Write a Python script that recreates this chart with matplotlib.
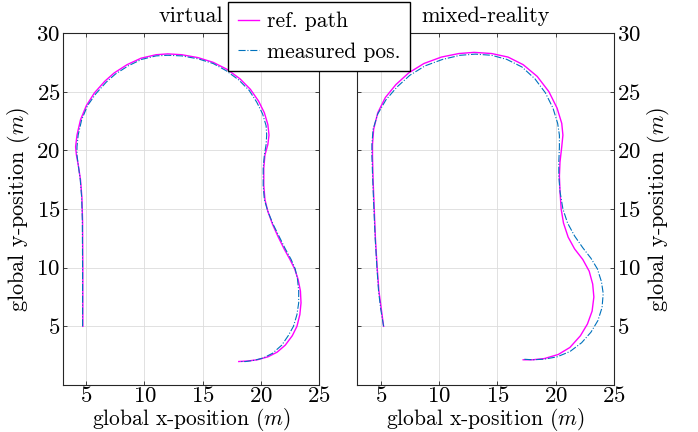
import numpy as np
import matplotlib
matplotlib.use("Agg")
import matplotlib.pyplot as plt

plt.rcParams['font.family'] = 'serif'
plt.rcParams['font.serif'] = ['cmr10']
plt.rcParams['mathtext.fontset'] = 'cm'
plt.rcParams['axes.formatter.use_mathtext'] = True
plt.rcParams['font.size'] = 16

# path points (x, y) in metres
virt_ref = np.array([
    (4.70, 5.0), (4.70, 10.0), (4.68, 14.0), (4.62, 16.0), (4.50, 17.5), (4.30, 18.8),
    (4.15, 19.6), (4.08, 20.3), (4.20, 21.3), (4.50, 22.6), (5.00, 23.8), (5.70, 24.9),
    (6.60, 25.9), (7.40, 26.6), (8.50, 27.3), (9.70, 27.85), (11.0, 28.15), (12.0, 28.22),
    (13.2, 28.15), (14.6, 27.9), (15.9, 27.5), (17.1, 26.9), (18.2, 26.1), (19.1, 25.2),
    (19.8, 24.2), (20.3, 23.2), (20.6, 22.2), (20.7, 21.3), (20.6, 20.5), (20.35, 19.6),
    (20.25, 18.5), (20.25, 17.0), (20.35, 15.8), (20.6, 14.8), (21.0, 13.7), (21.5, 12.6),
    (22.0, 11.6), (22.5, 10.7), (22.9, 9.9), (23.2, 9.0), (23.4, 8.0), (23.45, 7.0),
    (23.35, 6.0), (23.1, 5.0), (22.7, 4.2), (22.1, 3.4), (21.4, 2.8), (20.6, 2.4),
    (19.7, 2.15), (18.9, 2.05), (18.1, 2.0),
])
virt_meas = np.array([
    (4.68, 5.0), (4.68, 10.0), (4.66, 14.0), (4.60, 16.0), (4.48, 17.5), (4.30, 18.8),
    (4.20, 19.6), (4.20, 20.3), (4.30, 21.3), (4.60, 22.6), (5.10, 23.8), (5.80, 24.8),
    (6.70, 25.8), (7.50, 26.5), (8.60, 27.2), (9.75, 27.75), (11.0, 28.05), (12.0, 28.1),
    (13.2, 28.05), (14.6, 27.8), (15.9, 27.4), (17.0, 26.8), (18.1, 26.0), (19.0, 25.1),
    (19.65, 24.1), (20.15, 23.1), (20.45, 22.1), (20.5, 21.3), (20.45, 20.5), (20.3, 19.6),
    (20.2, 18.5), (20.2, 17.0), (20.3, 15.8), (20.6, 14.8), (21.05, 13.7), (21.6, 12.6),
    (22.1, 11.6), (22.6, 10.7), (22.95, 9.9), (23.15, 9.0), (23.25, 8.0), (23.25, 7.0),
    (23.1, 6.0), (22.8, 5.0), (22.35, 4.2), (21.8, 3.4), (21.0, 2.7), (20.2, 2.3),
    (19.4, 2.1), (18.7, 2.0), (18.2, 2.0),
])
mixed_ref = np.array([
    (5.25, 5.0), (5.05, 6.5), (4.85, 8.0), (4.70, 10.0), (4.55, 12.5), (4.45, 15.0),
    (4.35, 17.5), (4.30, 19.5), (4.30, 20.5), (4.40, 21.8), (4.75, 23.2), (5.40, 24.5),
    (6.30, 25.6), (7.40, 26.6), (8.70, 27.4), (10.2, 27.95), (11.7, 28.25), (13.0, 28.35),
    (14.5, 28.25), (15.9, 27.95), (17.2, 27.3), (18.4, 26.3), (19.4, 25.0), (20.1, 23.6),
    (20.5, 22.3), (20.6, 21.3), (20.5, 20.3), (20.35, 19.0), (20.3, 17.8), (20.35, 16.5),
    (20.45, 15.0), (20.65, 13.8), (21.05, 12.6), (21.6, 11.6), (22.3, 10.7), (22.85, 9.7),
    (23.15, 8.6), (23.25, 7.5), (23.1, 6.3), (22.7, 5.2), (22.1, 4.2), (21.2, 3.2),
    (20.2, 2.6), (19.0, 2.25), (18.0, 2.15), (17.2, 2.15),
])
mixed_meas = np.array([
    (5.25, 5.0), (5.0, 6.5), (4.82, 8.0), (4.68, 10.0), (4.53, 12.5), (4.42, 15.0),
    (4.32, 17.5), (4.25, 19.5), (4.25, 20.5), (4.35, 21.8), (4.75, 23.1), (5.45, 24.3),
    (6.40, 25.4), (7.50, 26.4), (8.80, 27.2), (10.3, 27.75), (11.8, 28.1), (13.1, 28.2),
    (14.5, 28.1), (15.8, 27.75), (17.1, 27.1), (18.2, 26.1), (19.1, 24.9), (19.75, 23.6),
    (20.15, 22.3), (20.3, 21.3), (20.3, 20.3), (20.25, 19.0), (20.25, 17.8), (20.35, 16.5),
    (20.6, 15.0), (21.0, 13.8), (21.6, 12.7), (22.3, 11.7), (23.0, 10.8), (23.55, 9.9),
    (23.9, 8.8), (24.05, 7.8), (23.95, 6.6), (23.6, 5.5), (23.0, 4.5), (22.2, 3.6),
    (21.2, 2.85), (20.1, 2.4), (19.0, 2.2), (18.0, 2.15), (17.2, 2.2),
])

titles = ['virtual', 'mixed-reality']
x_ticks = [5, 10, 15, 20, 25]
y_ticks = [5, 10, 15, 20, 25, 30]

ref_color = '#FF00FF'
meas_color = '#0072BD'

fig = plt.figure(figsize=(6.98, 4.32), dpi=100)
ax1 = fig.add_axes([0.0903, 0.1088, 0.3668, 0.8148])
ax2 = fig.add_axes([0.5119, 0.1088, 0.3682, 0.8148])

for ax, ref, meas, title in [(ax1, virt_ref, virt_meas, titles[0]),
                             (ax2, mixed_ref, mixed_meas, titles[1])]:
    ax.plot(ref[:, 0], ref[:, 1], color=ref_color, lw=1.0, label='ref. path')
    ax.plot(meas[:, 0], meas[:, 1], color=meas_color, lw=0.8, ls='-.', label='measured pos.')
    ax.set_xlim(3, 25)
    ax.set_ylim(0, 30)
    ax.set_xticks(x_ticks)
    ax.set_yticks(y_ticks)
    ax.grid(True, color='#dcdcdc', lw=0.6)
    ax.set_axisbelow(True)
    ax.tick_params(direction='in', top=True, right=True, left=True, bottom=True,
                   length=3, width=0.6, labelsize=16.5, color='#262626', pad=2)
    ax.tick_params(axis='x', pad=1)
    for s in ax.spines.values():
        s.set_color('#262626')
        s.set_linewidth(0.8)
    ax.set_title(title, fontsize=16, pad=8)
    ax.set_xlabel('global x-position ($m$)', fontsize=15.5, labelpad=0)
    ax.set_ylabel('global y-position ($m$)', fontsize=16, labelpad=3)

ax2.yaxis.set_label_position('right')
ax2.tick_params(labelleft=False, labelright=True)

handles, labels = ax1.get_legend_handles_labels()
fig.legend(handles, labels, loc='upper center', bbox_to_anchor=(0.457, 0.995),
           fontsize=15.5, frameon=True, fancybox=False, edgecolor='black',
           framealpha=1, handlelength=1.0, handletextpad=0.35, labelspacing=0.5,
           borderpad=0.45, borderaxespad=0)

fig.savefig('out.png', dpi=100)
